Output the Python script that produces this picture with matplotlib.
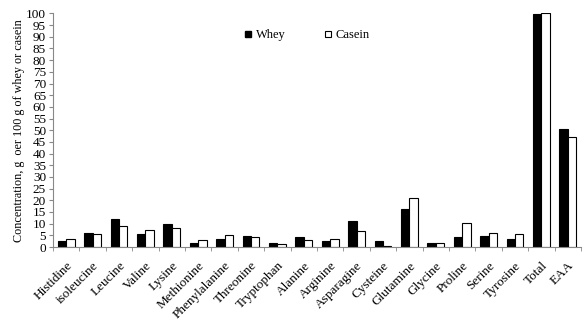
import numpy as np
import matplotlib.pyplot as plt
from matplotlib.lines import Line2D

amino = ['Histidine', 'isoleucine', 'Leucine', 'Valine', 'Lysine', 'Methionine',
         'Phenylalanine', 'Threonine', 'Tryptophan', 'Alanine', 'Arginine',
         'Asparagine', 'Cysteine', 'Glutamine', 'Glycine', 'Proline', 'Serine',
         'Tyrosine', 'Total', 'EAA']
whey = [2.6, 6.1, 12.1, 5.7, 10.0, 1.9, 3.6, 4.8, 1.9, 4.4, 2.7,
        11.3, 2.7, 16.4, 1.7, 4.4, 4.8, 3.6, 99.8, 50.6]
casein = [3.3, 5.4, 9.2, 7.2, 8.0, 2.8, 5.0, 4.1, 1.1, 3.0, 3.3,
          6.7, 0.4, 20.8, 1.6, 10.1, 5.8, 5.4, 100.0, 47.3]

plt.rcParams['font.family'] = 'Liberation Serif'

fig = plt.figure(figsize=(5.87, 3.2), dpi=100)
ax = fig.add_axes([0.0903, 0.228, 0.8995, 0.73])

x = np.arange(len(amino))
w = 0.32
ax.bar(x - w / 2, whey, w, color='black', edgecolor='black', linewidth=0.8)
ax.bar(x + w / 2, casein, w, color='white', edgecolor='black', linewidth=0.8)

ax.set_xlim(-0.5, len(amino) - 0.5)
ax.set_ylim(0, 100)
ax.set_yticks(range(0, 101, 5))
ax.tick_params(axis='y', labelsize=9.5, length=3, color='#888888', pad=2)

ax.set_xticks(x)
ax.set_xticklabels(amino, rotation=45, ha='right', rotation_mode='anchor', fontsize=9.5)
ax.tick_params(axis='x', length=0, pad=9)
ax.set_xticks(np.arange(-0.5, len(amino)), minor=True)
ax.tick_params(axis='x', which='minor', length=3, color='#888888')

for s in ['top', 'right']:
    ax.spines[s].set_visible(False)
for s in ['left', 'bottom']:
    ax.spines[s].set_color('#888888')
    ax.spines[s].set_linewidth(0.8)

ax.set_ylabel('Concentration, g  oer 100 g of whey or casein', fontsize=8.7, labelpad=1)

handles = [Line2D([], [], marker='s', linestyle='none', markersize=5,
                  markerfacecolor='black', markeredgecolor='black'),
           Line2D([], [], marker='s', linestyle='none', markersize=5,
                  markerfacecolor='white', markeredgecolor='black', markeredgewidth=0.8)]
ax.legend(handles, ['Whey', 'Casein'], ncol=2, frameon=False, fontsize=9,
          loc='center', bbox_to_anchor=(0.48, 0.906), handlelength=0.8,
          handletextpad=0.2, columnspacing=3.0)

fig.savefig('out.png', dpi=100)
